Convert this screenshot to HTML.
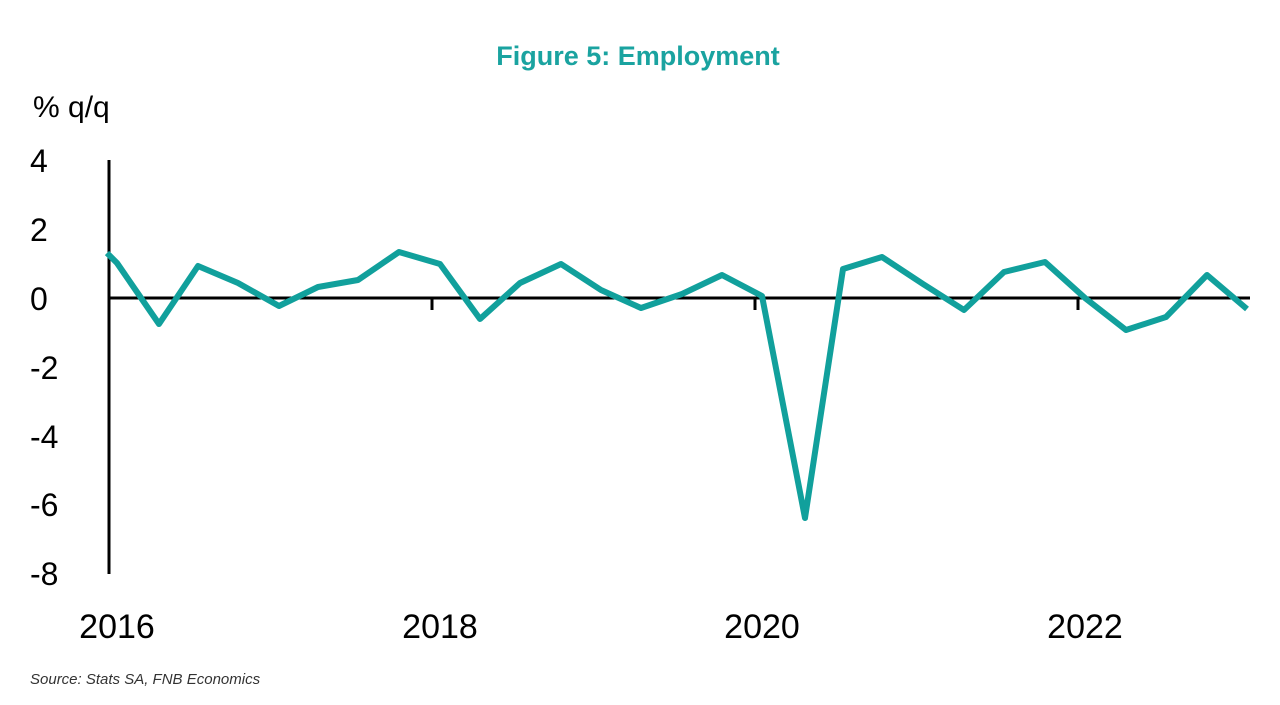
<!DOCTYPE html>
<html><head><meta charset="utf-8"><style>
body{margin:0;background:#fff;width:1280px;height:700px;overflow:hidden;font-family:"Liberation Sans",sans-serif;}
</style></head><body>
<svg width="1280" height="700" xmlns="http://www.w3.org/2000/svg">
<text x="638" y="65" text-anchor="middle" font-size="27" font-weight="bold" fill="#1aa3a0" font-family="Liberation Sans, sans-serif">Figure 5: Employment</text>
<text x="33" y="117" font-size="30" fill="#000">% q/q</text>
<g font-size="32" fill="#000" text-anchor="start">
<text x="30" y="172">4</text>
<text x="30" y="241">2</text>
<text x="30" y="310">0</text>
<text x="30" y="379">-2</text>
<text x="30" y="448">-4</text>
<text x="30" y="516">-6</text>
<text x="30" y="585">-8</text>
</g>
<g font-size="34" fill="#000" text-anchor="middle">
<text x="117" y="638">2016</text>
<text x="440" y="638">2018</text>
<text x="762" y="638">2020</text>
<text x="1085" y="638">2022</text>
</g>
<line x1="109" y1="160" x2="109" y2="574" stroke="#000" stroke-width="3"/>
<line x1="109" y1="298" x2="1250" y2="298" stroke="#000" stroke-width="3"/>
<g stroke="#000" stroke-width="3">
<line x1="432" y1="298" x2="432" y2="310"/>
<line x1="755" y1="298" x2="755" y2="310"/>
<line x1="1078" y1="298" x2="1078" y2="310"/>
</g>
<polyline fill="none" stroke="#11a09c" stroke-width="6" stroke-linejoin="round" points="107,253 117,263 159,324 198,266 238,283 279,306 318,287 358,280 399,252 440,264 480,319 520,283 561,264 601,290 641,308 682,294 722,275 762,296 805,518 843,269 882,257 923,284 964,310 1004,272 1045,262 1085,298 1126,330 1166,317 1207,275 1247,309"/>
<text x="30" y="684" font-size="15" font-style="italic" fill="#333">Source: Stats SA, FNB Economics</text>
</svg>
</body></html>
